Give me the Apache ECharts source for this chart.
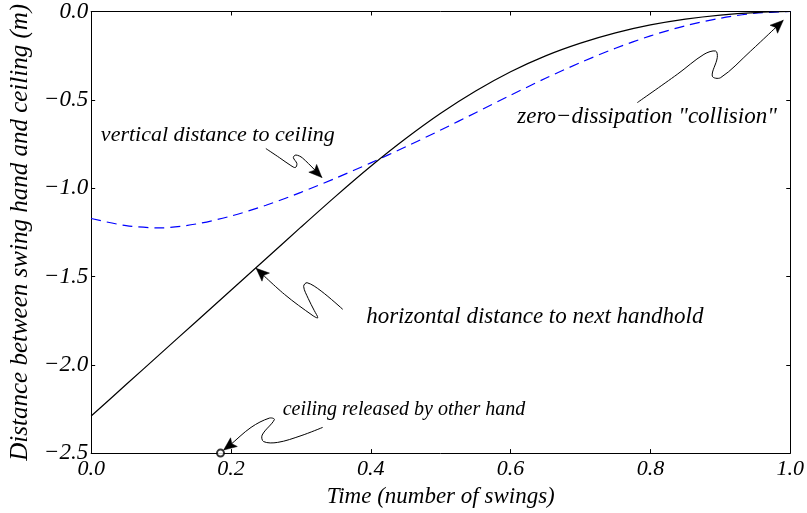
<!DOCTYPE html>
<html>
<head>
<meta charset="utf-8">
<script src="https://cdn.jsdelivr.net/npm/echarts@6/dist/echarts.min.js"></script>
<style>
    html, body { margin: 0; padding: 0; background: #fff; }
    #chart { width: 807px; height: 513px; }
</style>
</head>
<body>
<div id="chart"></div>
<script>
// time in swings
var times = [0, 0.05, 0.1, 0.15, 0.2, 0.25, 0.3, 0.35, 0.4, 0.45, 0.5,
    0.55, 0.6, 0.65, 0.7, 0.75, 0.8, 0.85, 0.9, 0.95, 1.0]
// horizontal distance to next handhold (black)
var horizontalDist = [-2.29, -2.112, -1.934, -1.756, -1.578, -1.400, -1.221, -1.045, -0.876, -0.719, -0.576,
    -0.450, -0.341, -0.251, -0.179, -0.121, -0.076, -0.043, -0.020, -0.006, 0]
// vertical distance to ceiling (blue dashed)
var verticalDist = [-1.172, -1.212, -1.225, -1.203, -1.158, -1.097, -1.024, -0.943, -0.857, -0.766, -0.671,
    -0.573, -0.474, -0.378, -0.289, -0.208, -0.138, -0.081, -0.038, -0.010, 0]
// ceiling released by the other hand
var releasePoint = [0.185, -2.5]
var xTitle = 'Time (number of swings)'
var yTitle = 'Distance between swing hand and ceiling (m)'

var fontFamily = "'Liberation Serif', 'Times New Roman', serif"

// annotation layout: tip in data coords, label and curve offsets in px from the tip
var notes = [
    {
        text: 'vertical distance to ceiling',
        size: 22,
        tip: [0.330, -0.94],
        label: [-221, -42],
        path: [[-56, -29], [-42.6, -20], [-31, -12], [-26.5, -10], [-25, -14], [-28.5, -20], [-26, -22.5], [-19.3, -19.5], [0, 0]],
    },
    {
        text: 'horizontal distance to next handhold',
        size: 23,
        tip: [0.236, -1.454],
        label: [110, 49],
        path: [[86.6, 41], [65, 22.7], [51, 14.4], [47.5, 18], [52, 30], [58, 42], [61.6, 49.4], [57, 47.5], [28.3, 26], [0, 0]],
    },
    {
        text: 'ceiling released by other hand',
        size: 20,
        tip: [0.1895, -2.483],
        label: [59, -40],
        path: [[99, -22.7], [77.4, -14.4], [54, -7.7], [40, -8.5], [38.5, -15], [50.7, -30.5], [45.7, -32], [27.4, -22.7], [5.7, -4.4], [0, 0]],
    },
    {
        text: 'zero\u2212dissipation "collision"',
        size: 23,
        tip: [0.99, -0.05],
        label: [-266, 97],
        path: [[-146, 82.3], [-106, 54], [-79.3, 34], [-67.6, 30.7], [-66, 37.3], [-71, 55.7], [-62.6, 57.3], [-32.6, 30.7], [0, 0]],
    },
]

function zip(xs, ys) {
    return xs.map(function (x, i) { return [x, ys[i]] })
}

function fmt(v) {
    return v.toFixed(1).replace('-', '\u2212')
}

var labelStyle = {
    formatter: fmt,
    fontFamily: fontFamily,
    fontStyle: 'italic',
    fontSize: 22,
    color: '#000',
}

function axis(extra, mirror) {
    var a = {
        type: 'value',
        axisLine: { show: true, onZero: false, lineStyle: { color: '#000', width: 1 } },
        axisTick: { show: true, inside: true, length: 4, lineStyle: { color: '#000' } },
        splitLine: { show: false },
        axisLabel: mirror ? { show: false } : labelStyle,
    }
    return Object.assign(a, extra)
}

var chart = echarts.init(document.getElementById('chart'))

var option = {
    animation: false,
    backgroundColor: '#fff',
    grid: { left: 84, right: 11, top: 7, bottom: 59 },
    xAxis: [
        axis({
            min: 0, max: 1, interval: 0.2, position: 'bottom',
            axisLabel: Object.assign({}, labelStyle, { margin: 5 }),
            name: xTitle, nameLocation: 'middle', nameGap: 31,
            nameTextStyle: { fontFamily: fontFamily, fontStyle: 'italic', fontSize: 23, color: '#000' },
        }),
        axis({ min: 0, max: 1, interval: 0.2, position: 'top' }, true),
    ],
    yAxis: [
        axis({
            min: -2.5, max: 0, interval: 0.5, position: 'left',
            axisLabel: Object.assign({}, labelStyle, { margin: 3, fontSize: 23 }),
            name: yTitle, nameLocation: 'middle', nameGap: 53,
            nameTextStyle: { fontFamily: fontFamily, fontStyle: 'italic', fontSize: 25, color: '#000' },
        }),
        axis({ min: -2.5, max: 0, interval: 0.5, position: 'right' }, true),
    ],
    series: [
        {
            type: 'line',
            data: zip(times, horizontalDist),
            showSymbol: false,
            smooth: 0.3,
            lineStyle: { color: '#000', width: 1.2 },
            z: 3,
        },
        {
            type: 'line',
            data: zip(times, verticalDist),
            showSymbol: false,
            smooth: 0.3,
            lineStyle: { color: '#0000ff', width: 1.2, type: [10, 6] },
            z: 2,
        },
        {
            type: 'scatter',
            data: [releasePoint],
            symbol: 'emptyCircle',
            symbolSize: 7,
            clip: false,
            itemStyle: { color: '#000', borderColor: '#000', borderWidth: 1 },
            z: 5,
        },
    ],
}
chart.setOption(option)

// annotations with squiggly arrows
var graphics = []
notes.forEach(function (n) {
    var p = chart.convertToPixel({ gridIndex: 0 }, n.tip)
    var pts = n.path.map(function (d) { return [p[0] + d[0], p[1] + d[1]] })
    graphics.push({
        type: 'polyline',
        shape: { points: pts, smooth: 0.35 },
        style: { stroke: '#000', lineWidth: 1, fill: null },
        z: 10,
    })
    // arrow head
    var prev = pts[pts.length - 2]
    var dx = p[0] - prev[0], dy = p[1] - prev[1]
    var len = Math.sqrt(dx * dx + dy * dy)
    var ux = dx / len, uy = dy / len
    var hl = 13, hw = 5.5
    var bx = p[0] - ux * hl, by = p[1] - uy * hl
    graphics.push({
        type: 'polygon',
        shape: {
            points: [
                [p[0], p[1]],
                [bx - uy * hw, by + ux * hw],
                [p[0] - ux * hl * 0.8, p[1] - uy * hl * 0.8],
                [bx + uy * hw, by - ux * hw],
            ],
        },
        style: { fill: '#000', stroke: '#000', lineWidth: 0.5 },
        z: 11,
    })
    graphics.push({
        type: 'text',
        x: p[0] + n.label[0],
        y: p[1] + n.label[1],
        style: {
            text: n.text,
            font: 'italic ' + n.size + 'px ' + fontFamily,
            fill: '#000',
            align: 'left',
            verticalAlign: 'middle',
        },
        z: 12,
    })
})
chart.setOption({ graphic: graphics })
</script>
</body>
</html>
